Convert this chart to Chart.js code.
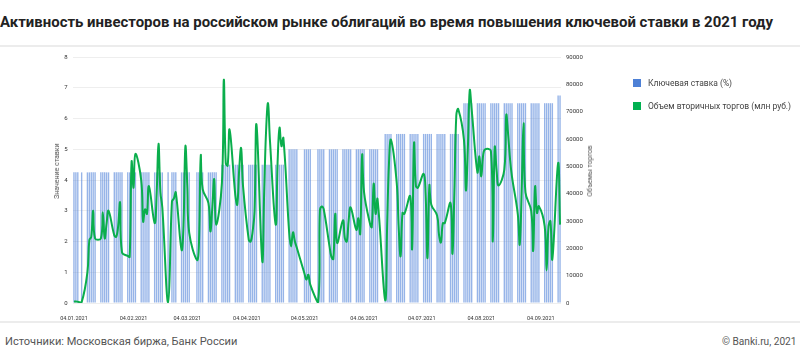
<!DOCTYPE html>
<html>
<head>
<meta charset="utf-8">
<script src="https://cdn.jsdelivr.net/npm/chart.js@4.4.1/dist/chart.umd.min.js"></script>
<style>
html,body{margin:0;padding:0;background:#fff;}
body{width:800px;height:363px;position:relative;overflow:hidden;font-family:Roboto,"Noto Sans",sans-serif;}
.title{position:absolute;left:0;top:13px;font-weight:700;font-size:15px;line-height:18px;color:#222;white-space:nowrap;transform-origin:0 50%;}
.sep{position:absolute;left:0;width:800px;height:2px;background:#ececec;}
#wrap{position:absolute;left:0;top:48px;width:800px;height:272px;}
.ax{position:absolute;font-size:7px;color:#555;white-space:nowrap;transform:translate(-50%,-50%) rotate(-90deg);}
.leg{position:absolute;left:633px;font-size:8.5px;line-height:10px;color:#444;white-space:nowrap;}
.leg i{display:inline-block;width:8px;height:8px;vertical-align:-1px;margin-right:7px;}
.foot{position:absolute;top:334px;font-size:11.5px;line-height:14px;color:#555;white-space:nowrap;}
</style>
</head>
<body>
<div class="title" id="title">Активность инвесторов на российском рынке облигаций во время повышения ключевой ставки в 2021 году</div>
<div class="sep" style="top:45px"></div>
<div id="wrap"><canvas id="chart" width="800" height="272"></canvas></div>
<div class="ax" style="left:57px;top:171px">Значение ставки</div>
<div class="ax" style="left:590px;top:171px">Объемы торгов</div>
<div class="leg" style="top:78px"><i style="background:#4d80d6"></i>Ключевая ставка (%)</div>
<div class="leg" style="top:101px"><i style="background:#00b050"></i>Объем вторичных торгов (млн руб.)</div>
<div class="sep" style="top:321px"></div>
<div class="foot" id="src" style="left:5px">Источники: Московская биржа, Банк России</div>
<div class="foot" id="copy" style="right:3px">© Banki.ru, 2021</div>

<script>
// ── Data: trading days per month and secondary trading volume (mln rub) ──
const daysJan=[4,5,6,8,11,12,13,14,15,18,19,20,21,22,25,26,27,28,29];
const volJan =[560,560,450,340,11250,23060,24190,33750,23630,23630,33190,23630,29250,33750,24750,24190,28130,36790,18560];
const daysFeb=[1,2,3,4,5,8,9,10,11,12,15,16,17,18,19,22,24,25,26];
const volFeb =[17210,16880,51750,42190,54560,45000,29810,34310,32630,42750,29250,39380,58280,40500,34880,300,37130,38250,40500];
const daysMar=[1,2,3,4,5,9,10,11,12,15,16,17,18,19,22,23,24,25,26,29,30,31];
const volMar =[19460,28130,57380,42750,25650,15750,20700,53890,41630,36560,26210,34880,45340,28690,43880,81680,51190,50290,63450,39380,36000,48830];
const daysApr=[1,2,5,6,7,8,9,12,13,14,15,16,19,20,21,22,23,26,27,28,29,30];
const volApr =[56700,42750,23060,22500,26210,33530,65250,15300,40500,63000,73130,59630,28690,51750,64130,57380,60410,25880,20700,25880,22500,20250];
const daysMay=[4,5,6,7,11,12,13,14,17,18,19,20,21,24,25,26,27,28,31];
const volMay =[10690,8550,10350,6750,230,33750,35330,34310,20810,16880,16090,32630,21940,30260,23630,22500,30380,34990,26780];
const daysJun=[1,2,3,4,7,8,9,10,11,15,16,17,18,21,22,23,24,25,28,29,30];
const volJun =[31050,25310,54230,40500,29250,27790,43650,32630,38030,1010,28130,51750,59740,43880,28010,17100,32960,32630,39040,19800,58500];
const daysJul=[1,2,5,6,7,8,9,12,13,14,15,16,19,20,21,22,23,26,27,28,29,30];
const volJul =[42750,42190,47250,40500,16430,42980,36000,32060,24980,22160,29250,29250,36560,18000,40500,68630,70990,59630,41180,56250,77850,70880];
const daysAug=[2,3,4,5,6,9,10,11,12,13,16,17,18,19,20,23,24,25,26,27,30,31];
const volAug =[47810,53660,46350,54230,56250,55690,22500,57040,48380,42980,48830,68850,61540,52430,46130,32630,21380,40280,65810,40500,33750,19130];
const daysSep=[1,2,3,6,7,8,9,10,13,14];
const volSep =[42640,32960,35440,28130,11930,28130,29930,16090,51190,28690];

// key rate (%) and the dates it took effect
const rateStart=['2021-01-04','2021-03-22','2021-04-26','2021-06-15','2021-07-26','2021-09-13'];
const rateValue=[4.25,4.5,5,5.5,6.5,6.75];

const tickLabels=['04.01.2021','04.02.2021','04.03.2021','04.04.2021','04.05.2021','04.06.2021','04.07.2021','04.08.2021','04.09.2021'];
const firstDay='2021-01-04', lastDay='2021-09-14';

// ── Build calendar-day category axis ──
const pad=n=>String(n).padStart(2,'0');
const monthDays=[daysJan,daysFeb,daysMar,daysApr,daysMay,daysJun,daysJul,daysAug,daysSep];
const monthVol=[volJan,volFeb,volMar,volApr,volMay,volJun,volJul,volAug,volSep];
const volByDate={};
monthDays.forEach((days,m)=>days.forEach((d,i)=>{volByDate['2021-'+pad(m+1)+'-'+pad(d)]=monthVol[m][i];}));

const labels=[],rateData=[],volData=[];
for(let t=new Date(firstDay+'T00:00:00Z');t<=new Date(lastDay+'T00:00:00Z');t.setUTCDate(t.getUTCDate()+1)){
  const iso=t.toISOString().slice(0,10);
  labels.push(iso.slice(8,10)+'.'+iso.slice(5,7)+'.'+iso.slice(0,4));
  if(iso in volByDate){
    volData.push(volByDate[iso]);
    let r=null;
    rateStart.forEach((s,i)=>{if(iso>=s)r=rateValue[i];});
    rateData.push(r);
  }else{volData.push(null);rateData.push(null);}
}

// ── Chart ──
const tickFont={family:'Roboto',size:6};
new Chart(document.getElementById('chart'),{
  type:'bar',
  data:{labels:labels,datasets:[
    {type:'line',label:'Объем вторичных торгов (млн руб.)',data:volData,yAxisID:'y1',borderColor:'#0aae4c',borderWidth:2,pointRadius:0,tension:0.4,spanGaps:true,order:0},
    {type:'bar',label:'Ключевая ставка (%)',data:rateData,yAxisID:'y',backgroundColor:'rgba(86,134,218,0.62)',barPercentage:0.72,categoryPercentage:1,order:1}
  ]},
  options:{
    responsive:false,animation:false,
    layout:{padding:{top:9,left:0,right:0,bottom:0}},
    plugins:{legend:{display:false},tooltip:{enabled:false}},
    scales:{
      x:{
        grid:{display:false},border:{display:false},
        ticks:{autoSkip:false,maxRotation:0,minRotation:0,font:{family:'Roboto',size:5.5},color:'#333',padding:4,
          callback:function(v){const l=this.getLabelForValue(v);return tickLabels.includes(l)?l:'';}},
        afterFit:s=>{s.height=17;}
      },
      y:{
        position:'left',min:0,max:8,
        ticks:{stepSize:1,font:tickFont,color:'#333',padding:5.5},
        grid:{color:'#eeeeee',drawTicks:false},border:{display:false},
        afterFit:s=>{s.width=73;}
      },
      y1:{
        position:'right',min:0,max:90000,
        ticks:{stepSize:10000,font:tickFont,color:'#333',padding:5,callback:v=>String(v)},
        grid:{drawOnChartArea:false,drawTicks:false},border:{display:false},
        afterFit:s=>{s.width=239;}
      }
    }
  }
});

// ── Fit the text lines to the widths they take in the picture ──
function fitWidth(id,w){
  const el=document.getElementById(id);
  el.style.transform='none';
  const cur=el.scrollWidth;
  if(cur>0) el.style.transform='scaleX('+(w/cur)+')';
}
function fitAll(){
  document.getElementById('src').style.transformOrigin='0 50%';
  document.getElementById('copy').style.transformOrigin='100% 50%';
  fitWidth('title',773);
  fitWidth('src',232);
  fitWidth('copy',75);
}
fitAll();
if(document.fonts&&document.fonts.ready)document.fonts.ready.then(fitAll);
</script>
</body>
</html>
